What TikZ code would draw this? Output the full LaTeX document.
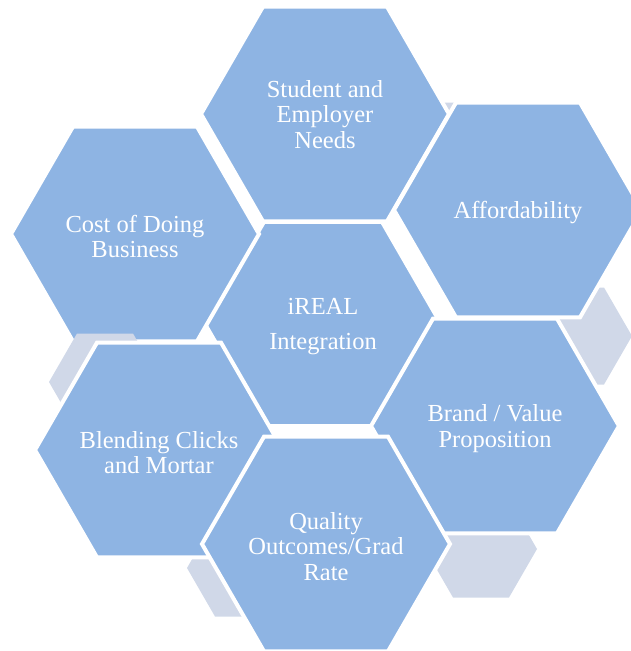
\documentclass[tikz,border=0pt]{standalone}
\usepackage{fontspec}
\setmainfont{Liberation Serif}
\usetikzlibrary{shapes.geometric}

\definecolor{hexblue}{HTML}{8EB4E3}
\definecolor{hexgrey}{HTML}{D0D8E8}

\tikzset{
  bighex/.style={regular polygon, regular polygon sides=6, minimum size=248pt,
    inner sep=0pt, fill=hexblue, draw=white, line width=4pt},
  hexlabel/.style={text=white, align=center, yshift=-2.5pt,
    font=\fontsize{24.5}{25.5}\selectfont},
  smallhex/.style={regular polygon, regular polygon sides=6, minimum size=112pt,
    inner sep=0pt, fill=hexgrey}
}

\begin{document}
\begin{tikzpicture}[x=1pt,y=-1pt]
    \useasboundingbox (0,0) rectangle (631,651);
    \clip (0,0) rectangle (631,651);

    % small grey hexagons, mostly hidden
    \node[smallhex] (g2) at (576,336) {};
    \node[smallhex] (g3) at (481,549) {};
    \node[smallhex] (g4) at (243,568) {};
    \node[smallhex] (g5) at (472,151) {};

    % middle one first, the others lie over its corners
    \node[bighex, minimum size=236pt,
      label={[hexlabel]center:iREAL\\[10pt]Integration}] (hub) at (323,324) {};

    % ring around it
    \node[bighex, label={[hexlabel]center:Cost of Doing\\Business}] (cost) at (135,234) {};
    \node[smallhex] (g1) at (105,382) {};
    \node[bighex, label={[hexlabel, yshift=2pt]center:Student and\\Employer\\Needs}] (needs) at (325,114) {};
    \node[bighex, label={[hexlabel]center:Affordability}] (afford) at (518,210) {};
    \node[bighex, label={[hexlabel]center:Brand / Value\\Proposition}] (brand) at (495,426) {};
    \node[bighex, label={[hexlabel]center:Blending Clicks\\and Mortar}] (blend) at (159,450) {};
    \node[bighex, label={[hexlabel]center:Quality\\Outcomes/Grad\\Rate}] (quality) at (326,544) {};
\end{tikzpicture}
\end{document}
